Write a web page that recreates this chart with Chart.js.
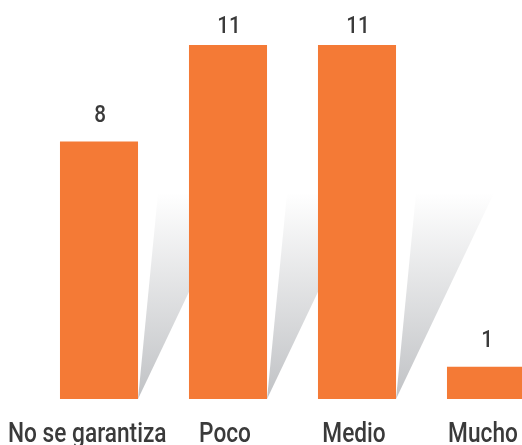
<!DOCTYPE html>
<html>
<head>
<meta charset="utf-8">
<script src="https://cdn.jsdelivr.net/npm/chart.js@4/dist/chart.umd.min.js"></script>
<style>
  html, body { margin: 0; padding: 0; background: #fff; }
  #wrap { width: 522px; height: 445px; overflow: hidden; position: relative; }
  #box { width: 556px; height: 445px; position: absolute; left: 0; top: 0; }
</style>
</head>
<body>
<div id="wrap"><div id="box"><canvas id="chart"></canvas></div></div>
<script>
// data
var categories = ['No se garantiza', 'Poco', 'Medio', 'Mucho'];
var counts = [8, 11, 11, 1];

var barColor = '#f47a36';
var textColor = '#3a3a3a';
var fontFamily = 'Roboto, "Liberation Sans", sans-serif';

// grey wedge behind each bar
var shadowPlugin = {
    id: 'barShadow',
    beforeDatasetsDraw: function (chart) {
        var ctx = chart.ctx;
        var meta = chart.getDatasetMeta(0);
        meta.data.forEach(function (bar) {
            var right = bar.x + bar.width / 2;
            var bottom = bar.base;
            var h = 206;
            var g = ctx.createLinearGradient(0, bottom, 0, bottom - h);
            g.addColorStop(0, 'rgb(192,194,197)');
            g.addColorStop(1, 'rgb(255,255,255)');
            ctx.save();
            ctx.fillStyle = g;
            ctx.beginPath();
            ctx.moveTo(right, bottom);
            ctx.lineTo(right + 20, bottom - h);
            ctx.lineTo(right + 98, bottom - h);
            ctx.closePath();
            ctx.fill();
            ctx.restore();
        });
    }
};

// text squeezed sideways to fake a condensed face
function squeezedText(ctx, text, cx, y, squeeze, wideLeft) {
    var w = ctx.measureText(text).width * squeeze;
    var left = cx - w / 2;
    if (wideLeft !== undefined && w > 120) left = wideLeft;
    ctx.save();
    ctx.translate(left, y);
    ctx.scale(squeeze, 1);
    ctx.textAlign = 'left';
    ctx.fillText(text, 0, 0);
    ctx.restore();
}

// values above bars, categories under them
var labelPlugin = {
    id: 'barLabels',
    afterDatasetsDraw: function (chart) {
        var ctx = chart.ctx;
        var meta = chart.getDatasetMeta(0);
        var xs = chart.scales.x;
        ctx.save();
        ctx.fillStyle = textColor;
        ctx.textBaseline = 'alphabetic';
        ctx.font = '500 24px ' + fontFamily;
        meta.data.forEach(function (bar, i) {
            var y = Math.max(bar.y - 20, 33);
            squeezedText(ctx, String(counts[i]), bar.x + 1, y, 0.86);
        });
        ctx.font = '500 28px ' + fontFamily;
        categories.forEach(function (c, i) {
            var cx = xs.getPixelForValue(i) - 3;
            squeezedText(ctx, c, cx, chart.chartArea.bottom + 43, 0.81, 8);
        });
        ctx.restore();
    }
};

var ctx = document.getElementById('chart');
var chart = new Chart(ctx, {
    type: 'bar',
    data: {
        labels: categories,
        datasets: [{
            data: counts,
            backgroundColor: barColor,
            borderWidth: 0,
            categoryPercentage: 1,
            barPercentage: 0.605
        }]
    },
    plugins: [shadowPlugin, labelPlugin],
    options: {
        responsive: true,
        maintainAspectRatio: false,
        animation: false,
        layout: { padding: { left: 34.5, right: 5.5, top: 0, bottom: 46 } },
        plugins: {
            legend: { display: false },
            tooltip: { enabled: false }
        },
        scales: {
            x: { display: false },
            y: { display: false, min: 0, max: 12.4 }
        }
    }
});
</script>
</body>
</html>
